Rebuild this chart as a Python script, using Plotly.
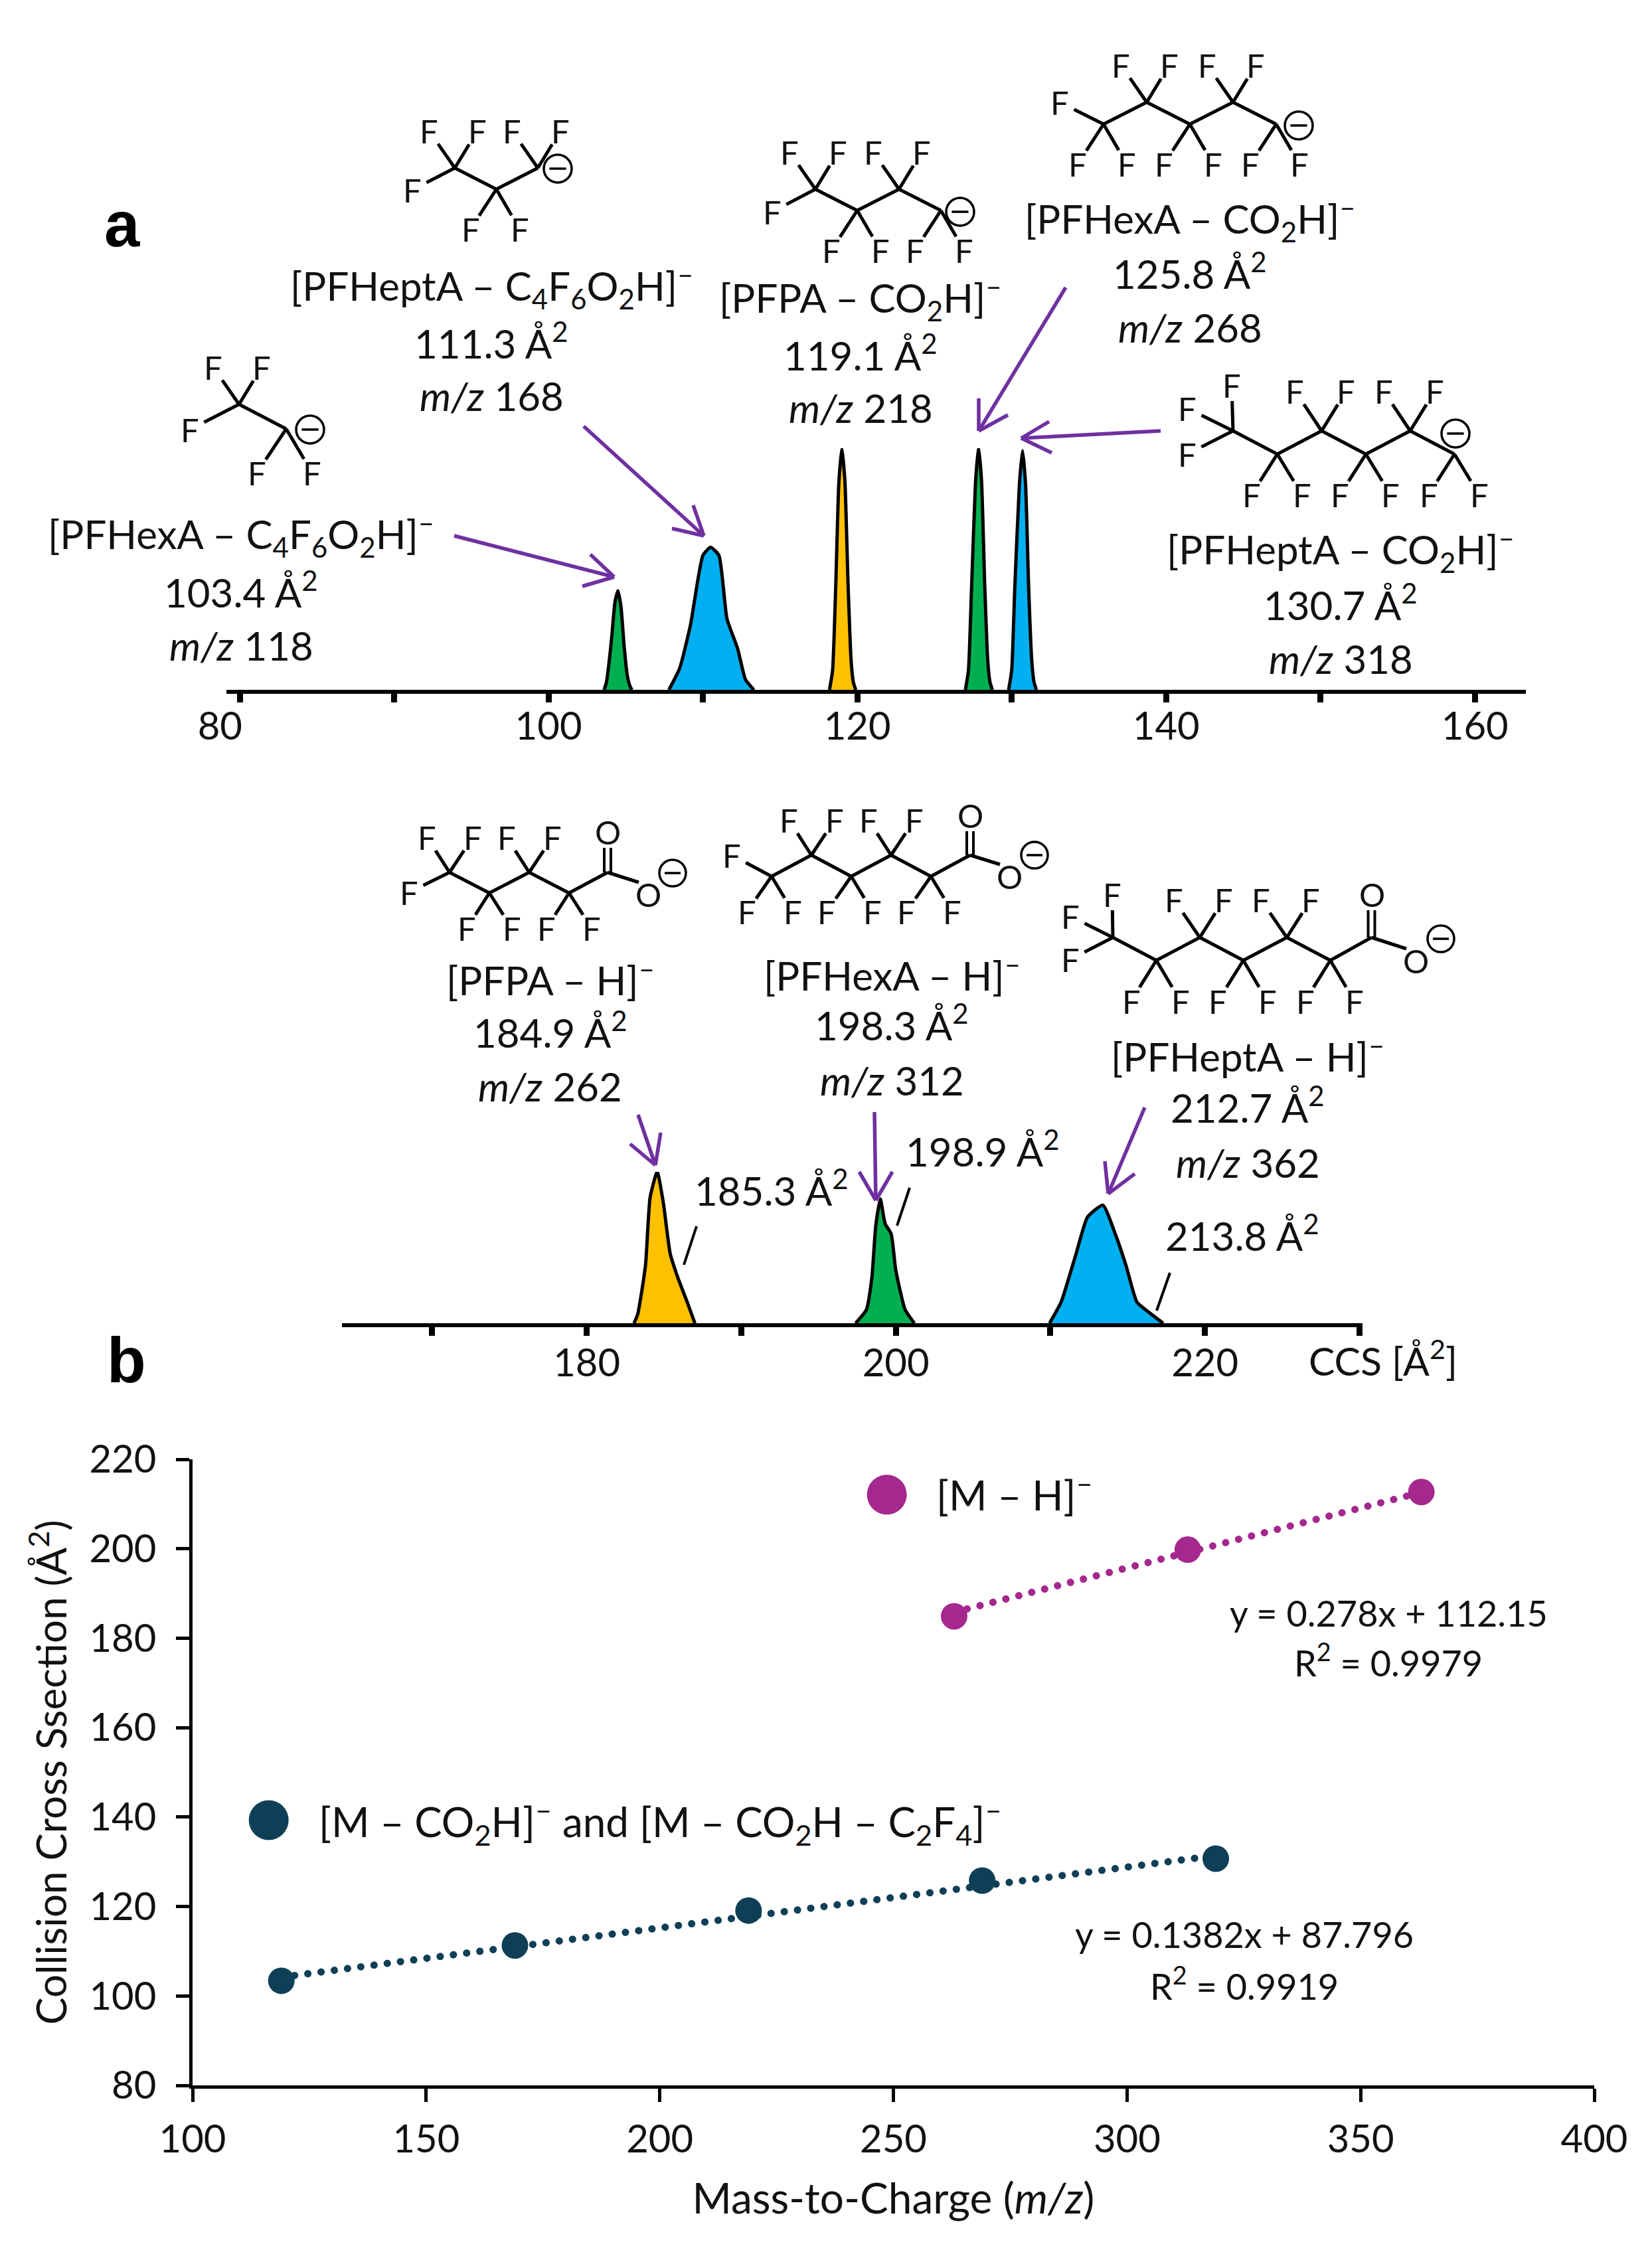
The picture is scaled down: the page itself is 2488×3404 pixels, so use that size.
import plotly.graph_objects as go

W, H = 2488, 3404
FONT = "Lato"
INK = "#111111"
PURPLE = "#7030A0"

# ---------- data ----------
ticks_a = [80, 90, 100, 110, 120, 130, 140, 150, 160]
ticklabels_a = ["80\u00a0\u00a0\u00a0\u00a0", "", "100", "", "120", "", "140", "", "160"]
ticks_c = [170, 180, 190, 200, 210, 220, 230]
ticklabels_c = ["", "180", "", "200", "", "220", ""]

g1_x = [103.6, 103.75, 103.9, 104.1, 104.3, 104.5, 104.7, 104.9, 105.1, 105.25, 105.4]
g1_y = [0, 3, 10, 22, 36, 41, 34, 18, 6, 2, 0]
b1_x = [107.8, 108.5, 109.2, 110.0, 110.5, 111.04, 111.56, 112.25, 112.76, 113.3]
b1_y = [0, 9, 27, 55.6, 59, 55.6, 29.4, 17, 4.2, 0]
y1_x = [118.2, 118.4, 118.6, 118.8, 119.0, 119.2, 119.4, 119.6, 119.75, 119.9]
y1_y = [0, 8, 42, 85, 100, 86, 44, 12, 3, 0]
g2_x = [127.0, 127.2, 127.4, 127.65, 127.85, 128.05, 128.25, 128.45, 128.6, 128.75]
g2_y = [0, 8, 42, 85, 100.5, 86, 44, 12, 3, 0]
b2_x = [129.8, 130.0, 130.2, 130.5, 130.7, 130.9, 131.1, 131.3, 131.45, 131.6]
b2_y = [0, 8, 42, 85, 99, 85, 42, 12, 3, 0]

y3_x = [183.06, 183.3, 183.8, 184.1, 184.56, 184.95, 185.4, 185.9, 186.5, 187.0]
y3_y = [0, 6, 38, 83, 100, 80, 46, 30, 14, 0]
g3_x = [197.4, 198.1, 198.45, 198.7, 199.0, 199.3, 199.7, 200.0, 200.6, 201.2]
g3_y = [0, 9, 30, 64, 82, 66, 59, 35, 9, 0]
b3_x = [209.95, 210.7, 211.67, 212.4, 213.4, 214.2, 214.9, 215.6, 216.4, 217.3]
b3_y = [0, 14, 46, 70, 78, 59, 38, 14, 7, 0]

mz_frag = [119, 169, 219, 269, 319]
ccs_frag = [103.4, 111.3, 119.1, 125.8, 130.7]
mz_dep = [263, 313, 363]
ccs_dep = [184.9, 199.8, 212.7]
trend_frag_x = [119, 319]
trend_frag_y = [104.2, 131.4]
trend_dep_x = [263, 363]
trend_dep_y = [185.8, 212.6]
legend_frag = ([116.3], [139.3])
legend_dep = ([248.6], [212.1])

GREEN, BLUE, YELLOW = "#00B050", "#00B0F0", "#FFC000"
NAVY, MAGENTA = "#0E3F56", "#A5288F"

fig = go.Figure()


def peak(x, y, color, xa, ya):
    fig.add_trace(go.Scatter(x=x, y=y, xaxis=xa, yaxis=ya, mode="lines", fill="toself",
                             fillcolor=color, showlegend=False,
                             line=dict(color="black", width=5, shape="spline", smoothing=0.5)))


for xs, ys, c in [(g1_x, g1_y, GREEN), (b1_x, b1_y, BLUE), (y1_x, y1_y, YELLOW),
                  (g2_x, g2_y, GREEN), (b2_x, b2_y, BLUE)]:
    peak(xs, ys, c, "x", "y")
for xs, ys, c in [(y3_x, y3_y, YELLOW), (g3_x, g3_y, GREEN), (b3_x, b3_y, BLUE)]:
    peak(xs, ys, c, "x2", "y2")

DOT = "0.1px,20px"
for tx, ty, mx, my, c, nm in [(trend_frag_x, trend_frag_y, mz_frag, ccs_frag, NAVY, "frag"),
                              (trend_dep_x, trend_dep_y, mz_dep, ccs_dep, MAGENTA, "dep")]:
    fig.add_trace(go.Scatter(x=tx, y=ty, xaxis="x3", yaxis="y3", mode="lines", showlegend=False,
                             line=dict(color=c, width=11, dash=DOT)))
    fig.add_trace(go.Scatter(x=mx, y=my, xaxis="x3", yaxis="y3", mode="markers", name=nm, showlegend=False,
                             marker=dict(color=c, size=40)))
for (lx, ly), c in [(legend_frag, NAVY), (legend_dep, MAGENTA)]:
    fig.add_trace(go.Scatter(x=lx, y=ly, xaxis="x3", yaxis="y3", mode="markers", showlegend=False,
                             marker=dict(color=c, size=60)))


# ---------- pixel helpers ----------
def px(x):
    return x / W


def py(y):
    return 1 - y / H


shapes, notes = [], []


def T(text, x, y, size=60, anchor="center", color=INK):
    notes.append(dict(text=text, x=px(x), y=py(y), xref="paper", yref="paper", showarrow=False,
                      xanchor=anchor, yanchor="middle", font=dict(family=FONT, size=size, color=color)))


def L(x0, y0, x1, y1, color="black", width=5):
    shapes.append(dict(type="line", xref="paper", yref="paper", x0=px(x0), y0=py(y0), x1=px(x1), y1=py(y1),
                       line=dict(color=color, width=width)))


def arrow(x0, y0, x1, y1, w0, w1):
    L(x0, y0, x1, y1, PURPLE, 5.5)
    L(w0[0], w0[1], x1, y1, PURPLE, 5.5)
    L(w1[0], w1[1], x1, y1, PURPLE, 5.5)


def charge(x, y, r=21):
    shapes.append(dict(type="circle", xref="paper", yref="paper", x0=px(x - r), x1=px(x + r),
                       y0=py(y - r), y1=py(y + r), line=dict(color="black", width=3.5)))
    L(x - r * 0.6, y, x + r * 0.6, y, "black", 3.5)


def F(cx, cy, fx, fy, size=49, label="F"):
    d = ((fx - cx) ** 2 + (fy - cy) ** 2) ** 0.5
    k = max(0, (d - 24) / d)
    L(cx, cy, cx + (fx - cx) * k, cy + (fy - cy) * k)
    T(label, fx, fy, size)


def chain(x0, y0, dx, dy, n, first_top, top, bot, skip_first=False, size=49):
    cs = []
    for i in range(n):
        is_top = (i % 2 == 0) == first_top
        c = (x0 + i * dx, y0 + (0 if (i % 2 == 0) else (dy if first_top else -dy)))
        cs.append(c)
        if i:
            L(cs[i - 1][0], cs[i - 1][1], c[0], c[1])
        if not (skip_first and i == 0):
            for ox, oy in (top if is_top else bot):
                F(c[0], c[1], c[0] + ox, c[1] + oy, size)
    return cs


TOP_A = ((-39, -56), (34, -56))
BOT_A = ((-39, 60), (35, 60))

# Panel a anions
c = chain(360, 609, 71, 37, 2, True, TOP_A, ((-44, 66), (39, 66)))
F(c[0][0], c[0][1], 286, 647)
charge(467, 647)

c = chain(685, 253, 62.5, 32, 3, True, TOP_A, BOT_A)
F(c[0][0], c[0][1], 621, 286)
charge(840, 254)

c = chain(1228, 285, 63, 32, 4, True, TOP_A, BOT_A)
F(c[0][0], c[0][1], 1163, 319)
charge(1446, 319)

c = chain(1662, 187, 65, 33, 5, False, TOP_A, BOT_A)
F(c[0][0], c[0][1], 1596, 154)
charge(1956, 189)

c = chain(1857, 649, 66.7, 35, 6, True, ((-40, -60), (37, -60)), ((-39, 61), (37, 61)), skip_first=True)
for f in [(1855, 580), (1788, 615), (1788, 684)]:
    F(c[0][0], c[0][1], f[0], f[1])
charge(2192, 653)


# Panel a2 carboxylates
def carboxyl(cs, o_top, o_minus, circ, w=60, dy=0):
    cx, cy = cs[-1]
    ex, ey = cx + w, cy - dy
    L(cx, cy, ex, ey)
    L(ex - 5, ey, ex - 5, o_top[1] + 24, width=4)
    L(ex + 5, ey, ex + 5, o_top[1] + 24, width=4)
    T("O", o_top[0], o_top[1], 49)
    L(ex, ey, o_minus[0] - 14, o_minus[1] - 18)
    T("O", o_minus[0], o_minus[1], 49)
    charge(circ[0], circ[1], 20)


c = chain(677, 1314, 60, 31, 4, True, ((-34, -53), (35, -53)), ((-34, 53), (34, 53)))
F(c[0][0], c[0][1], 616, 1344)
carboxyl(c, (915, 1253), (976, 1347), (1013, 1315), 58, 31)

c = chain(1162, 1320, 60, 32, 5, False, ((-34, -53), (35, -53)), ((-37, 53), (32, 53)))
F(c[0][0], c[0][1], 1102, 1288)
carboxyl(c, (1461, 1228), (1520, 1320), (1558, 1288), 59, 32)

c = chain(1676, 1412, 65.5, 34.5, 6, True, ((-39, -57), (36, -57)), ((-38, 61), (36, 61)), skip_first=True)
for f in [(1675, 1347), (1612, 1380), (1612, 1445)]:
    F(c[0][0], c[0][1], f[0], f[1])
carboxyl(c, (2066, 1347), (2132, 1447), (2170, 1414), 62, 34.5)

# Arrows
arrow(684, 807, 925, 869, (889, 835), (877, 883))
arrow(879, 642, 1060, 807, (1044, 761), (1012, 796))
arrow(1605, 433, 1474, 649, (1474, 600), (1518, 625))
arrow(1748, 649, 1538, 660, (1580, 635), (1584, 682))
arrow(961, 1679, 987, 1755, (949, 1723), (995, 1706))
arrow(1317, 1675, 1319, 1808, (1294, 1765), (1344, 1765))
arrow(1724, 1668, 1669, 1798, (1664, 1749), (1709, 1768))

# Shoulder pointers
L(1049, 1847, 1030, 1905, "black", 4)
L(1370, 1789, 1351, 1846, "black", 4)
L(1762, 1917, 1742, 1974, "black", 4)

MINUS = "<sup>\u2013</sup>"
A2 = " \u00c5<sup>2</sup>"
MZ = "<i>m/z</i> "

T("<b>a</b>", 184, 337, 96, color="black")
notes[-1]["font"]["family"] = "Liberation Sans"
T("<b>b</b>", 190, 2048, 96, color="black")
notes[-1]["font"]["family"] = "Liberation Sans"

blocks = [
    (f"[PFHexA \u2013 C<sub>4</sub>F<sub>6</sub>O<sub>2</sub>H]{MINUS}", "103.4" + A2, MZ + "118", 363, 805, 889, 972),
    (f"[PFHeptA \u2013 C<sub>4</sub>F<sub>6</sub>O<sub>2</sub>H]{MINUS}", "111.3" + A2, MZ + "168", 740, 431, 513, 596),
    (f"[PFPA \u2013 CO<sub>2</sub>H]{MINUS}", "119.1" + A2, MZ + "218", 1296, 449, 531, 614),
    (f"[PFHexA \u2013 CO<sub>2</sub>H]{MINUS}", "125.8" + A2, MZ + "268", 1792, 330, 408, 493),
    (f"[PFHeptA \u2013 CO<sub>2</sub>H]{MINUS}", "130.7" + A2, MZ + "318", 2019, 828, 907, 992),
    (f"[PFPA \u2013 H]{MINUS}", "184.9" + A2, MZ + "262", 829, 1472, 1551, 1636),
    (f"[PFHexA \u2013 H]{MINUS}", "198.3" + A2, MZ + "312", 1343, 1466, 1541, 1627),
    (f"[PFHeptA \u2013 H]{MINUS}", "212.7" + A2, MZ + "362", 1879, 1587, 1665, 1751),
]
for t1, t2, t3, x, y1, y2, y3 in blocks:
    T(t1, x, y1)
    T(t2, x, y2)
    T(t3, x, y3)

T("185.3" + A2, 1162, 1789)
T("198.9" + A2, 1480, 1730)
T("213.8" + A2, 1871, 1857)
T("CCS [\u00c5<sup>2</sup>]", 2083, 2045, 59)

T("y = 0.278x + 112.15", 2091, 2429, 54)
T("R<sup>2</sup> = 0.9979", 2091, 2501, 54)
T("y = 0.1382x + 87.796", 1874, 2913, 54)
T("R<sup>2</sup> = 0.9919", 1874, 2988, 54)
T(f"[M \u2013 H]{MINUS}", 1408, 2247, 62, "left")
T(f"[M \u2013 CO<sub>2</sub>H]{MINUS} and [M \u2013 CO<sub>2</sub>H \u2013 C<sub>2</sub>F<sub>4</sub>]{MINUS}", 478, 2743, 62, "left")


def xdom(a, b):
    return [a / W, b / W]


def ydom(top, bottom):
    return [1 - bottom / H, 1 - top / H]


tickfont = dict(family=FONT, size=58, color=INK)
spec_axis = dict(showline=True, linecolor="black", linewidth=6, ticks="outside", ticklen=13, tickwidth=9,
                 tickcolor="black", tickfont=tickfont, showgrid=False, zeroline=False, tickmode="array",
                 automargin=False)
hidden = dict(visible=False, range=[0, 100], showgrid=False, zeroline=False, automargin=False)

layout = dict(
    width=W, height=H, margin=dict(l=0, r=0, t=0, b=0), paper_bgcolor="white", plot_bgcolor="rgba(0,0,0,0)",
    showlegend=False, font=dict(family=FONT, color=INK), shapes=shapes, annotations=notes,
    xaxis=dict(spec_axis, domain=xdom(341, 2298), range=[79.14, 163.3], tickvals=ticks_a, ticktext=ticklabels_a,
               anchor="y", ticklabelstandoff=-14),
    yaxis=dict(hidden, domain=ydom(675, 1039), anchor="x"),
    xaxis2=dict(spec_axis, domain=xdom(515, 2052), range=[164.16, 230.2], tickvals=ticks_c, ticktext=ticklabels_c,
                anchor="y2", ticklabelstandoff=-9),
    yaxis2=dict(hidden, domain=ydom(1765, 1993), anchor="x2"),
    xaxis3=dict(domain=xdom(290, 2401), range=[100, 400], dtick=50, showline=True, linecolor="black", linewidth=5,
                ticks="outside", ticklen=20, tickwidth=5, tickcolor="black", tickfont=tickfont, showgrid=False,
                zeroline=False, anchor="y3", ticklabelstandoff=6, automargin=False,
                title=dict(text="Mass-to-Charge (<i>m/z</i>)", font=dict(tickfont, size=64))),
    yaxis3=dict(domain=ydom(2198, 3141), range=[80, 220], dtick=20, showline=True, linecolor="black", linewidth=5,
                ticks="outside", ticklen=20, tickwidth=5, tickcolor="black", tickfont=tickfont, showgrid=False,
                zeroline=False, anchor="x3", ticklabelstandoff=18, automargin=False,
                title=dict(text="Collision Cross Ssection (\u00c5<sup>2</sup>)", font=dict(tickfont, size=62))),
)
fig.update_layout(**layout)
post = ("document.body.style.margin='0';"
        "document.querySelectorAll('.scatterlayer .js-line').forEach(function(p){"
        "if((p.style.strokeDasharray||'').indexOf('20')>=0){p.style.strokeLinecap='round';}});"
        "var t=document.querySelector('.x3title');if(t){t.setAttribute('transform','translate(0,17)');}")
fig.write_html("out.html", config=dict(displayModeBar=False), post_script=post)
